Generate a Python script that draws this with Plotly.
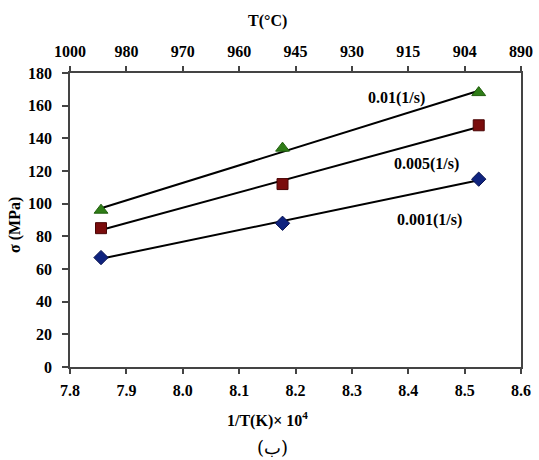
import numpy as np
import plotly.graph_objects as go

# data
inv_T = [7.855, 8.177, 8.525]          # 1/T(K) x 10^4
sigma_001 = [67, 88, 115]              # 0.001 1/s
sigma_0005 = [85, 112, 148]            # 0.005 1/s
sigma_001b = [96, 134, 168]            # 0.01 1/s
x_ticks = [7.8, 7.9, 8.0, 8.1, 8.2, 8.3, 8.4, 8.5, 8.6]
top_labels = ["1000", "980", "970", "960", "945", "930", "915", "904", "890"]
y_ticks = [0, 20, 40, 60, 80, 100, 120, 140, 160, 180]

FONT = "Liberation Serif"

series = [
    (sigma_001b, "triangle-up", "#2f7d17", "#1f5e0c", 12, "0.01(1/s)"),
    (sigma_0005, "square", "#7a0c0c", "#4a0505", 11, "0.005(1/s)"),
    (sigma_001, "diamond", "#0f237f", "#08124f", 11, "0.001(1/s)"),
]

fig = go.Figure()
xs = np.array(inv_T)
for ys, sym, col, edge, size, name in series:
    k, b = np.polyfit(xs, np.array(ys, dtype=float), 1)
    xl = np.array([xs.min(), xs.max()])
    fig.add_trace(go.Scatter(x=xl, y=k * xl + b, mode="lines",
                             line=dict(color="black", width=2),
                             showlegend=False, hoverinfo="skip"))
    fig.add_trace(go.Scatter(x=inv_T, y=ys, mode="markers", name=name,
                             marker=dict(symbol=sym, size=size, color=col,
                                         line=dict(color=edge, width=1)),
                             showlegend=False))

# dummy trace for top axis
fig.add_trace(go.Scatter(x=[x_ticks[0]], y=[0], xaxis="x2", mode="markers",
                         marker=dict(opacity=0), showlegend=False, hoverinfo="skip"))

axfont = dict(family=FONT, size=16, color="black", weight="bold")
common = dict(ticks="outside", tickwidth=1.5, tickcolor="#444",
              showline=True, linecolor="#444", linewidth=1.5,
              showgrid=False, zeroline=False, tickfont=axfont, automargin=False)
fig.update_layout(
    width=539, height=460,
    margin=dict(l=70, r=18, t=73, b=93, autoexpand=False),
    paper_bgcolor="white", plot_bgcolor="white",
    font=dict(family=FONT, color="black"),
    xaxis=dict(range=[7.8, 8.6], tickvals=x_ticks,
               ticktext=[f"{v:.1f}" for v in x_ticks],
               ticklen=5, ticklabelstandoff=3, **common),
    xaxis2=dict(range=[7.8, 8.6], tickvals=x_ticks, ticktext=top_labels,
                overlaying="x", side="top", anchor="y",
                ticklen=5, ticklabelstandoff=3, **common),
    yaxis=dict(range=[0, 180], tickvals=y_ticks, mirror=True,
               ticklen=6, ticklabelstandoff=7, **common),
)

ann_font = dict(family=FONT, size=16, color="black", weight="bold")
A = dict(showarrow=False, xanchor="center", yanchor="middle")
fig.add_annotation(x=8.38, y=165, xref="x", yref="y", text="0.01(1/s)",
                   font=ann_font, **A)
fig.add_annotation(x=8.432, y=124, xref="x", yref="y", text="0.005(1/s)",
                   font=ann_font, **A)
fig.add_annotation(x=8.438, y=90, xref="x", yref="y", text="0.001(1/s)",
                   font=ann_font, **A)

# axis titles
fig.add_annotation(x=(267 - 70) / 451, y=(367 - 21) / 294, xref="paper", yref="paper",
                   text="T(°C)", font=ann_font, **A)
fig.add_annotation(x=(267 - 70) / 451, y=(367 - 419) / 294, xref="paper", yref="paper",
                   text="1/T(K)× 10<sup>4</sup>", font=ann_font, **A)
fig.add_annotation(x=(272 - 70) / 451, y=(367 - 447) / 294, xref="paper", yref="paper",
                   text="(ب)", font=dict(family="DejaVu Serif", size=18, color="black"), **A)
fig.add_annotation(x=(15 - 70) / 451, y=(367 - 225) / 294, xref="paper", yref="paper",
                   text="σ (MPa)", textangle=-90, font=ann_font, **A)

fig.write_html("out.html", config={"displayModeBar": False},
               post_script="document.body.style.margin='0';")
